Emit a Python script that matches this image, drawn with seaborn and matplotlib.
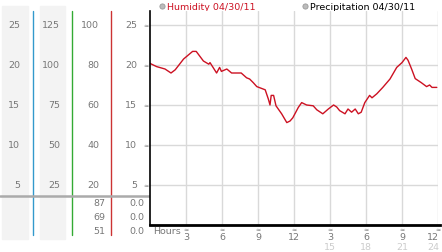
import matplotlib
matplotlib.use("Agg")
import matplotlib.pyplot as plt
import matplotlib.transforms as mtrans
import seaborn as sns
import pandas as pd

# ---- data ----
hours = [0.0, 0.55, 1.25, 1.75, 2.1, 2.8, 3.55, 3.85, 4.45, 4.9, 5.0, 5.55, 5.8, 5.95,
         6.4, 6.8, 7.6, 8.05, 8.3, 8.6, 8.9, 9.6, 9.86, 10.0, 10.1, 10.3, 10.5, 10.97,
         11.4, 11.67, 11.9, 12.36, 12.64, 13.05, 13.6, 13.9, 14.4, 14.86, 15.3, 15.56,
         15.8, 16.25, 16.5, 16.8, 17.1, 17.36, 17.6, 17.9, 18.3, 18.5, 18.9, 19.4, 20.0,
         20.56, 21.0, 21.33, 21.5, 21.8, 22.1, 22.6, 23.05, 23.3, 23.5, 23.9]
humidity = [20.2, 19.8, 19.5, 19.0, 19.4, 20.75, 21.7, 21.7, 20.5, 20.1, 20.3, 19.0, 19.7, 19.2,
            19.5, 19.0, 19.0, 18.4, 18.25, 17.8, 17.3, 16.9, 15.75, 15.0, 16.2, 16.2, 14.9, 13.9,
            12.8, 13.0, 13.4, 14.7, 15.3, 15.0, 14.9, 14.4, 13.9, 14.5, 15.0, 14.75,
            14.3, 13.9, 14.5, 14.1, 14.5, 13.9, 14.1, 15.3, 16.2, 15.9, 16.4, 17.2, 18.25,
            19.7, 20.3, 20.95, 20.6, 19.5, 18.3, 17.8, 17.3, 17.5, 17.2, 17.2]

y_ticks = [25, 20, 15, 10, 5]
col1_labels = ["25", "20", "15", "10", "5"]
col2_labels = ["125", "100", "75", "50", "25"]
col3_labels = ["100", "80", "60", "40", "20"]
col4_labels = ["25", "20", "15", "10", "5"]
col3_bottom = ["87", "69", "51"]
col4_bottom = ["0.0", "0.0", "0.0"]
x_ticks = [3, 6, 9, 12, 15, 18, 21, 24]
x_labels_top = ["3", "6", "9", "12", "3", "6", "9", "12"]
x_labels_bot = ["", "", "", "", "15", "18", "21", "24"]
legend_labels = ["Humidity 04/30/11", "Precipitation 04/30/11"]

df = pd.DataFrame({"hour": hours, "humidity": humidity})

sns.set_style("white")
plt.rcParams["font.family"] = ["DejaVu Sans"]

W, H = 442, 253
fig = plt.figure(figsize=(W / 100, H / 100), dpi=100)
fig.patch.set_facecolor("white")

# overlay axes in pixel coordinates for the left panel
ov = fig.add_axes([0, 0, 1, 1])
ov.set_xlim(0, W)
ov.set_ylim(H, 0)
ov.axis("off")

# main axes
ax = fig.add_axes([150 / W, (H - 226) / H, 288 / W, (226 - 12) / H])
ax.set_xlim(0, 24)
ax.set_ylim(0, 26.75)
ax.set_facecolor("white")
ax.set_xticks(x_ticks)
ax.set_yticks(y_ticks)
ax.grid(True, color="#d9d9d9", lw=1)
ax.tick_params(length=0, labelbottom=False, labelleft=False)
for s in ["top", "right"]:
    ax.spines[s].set_visible(False)
ax.spines["left"].set_color("black")
ax.spines["left"].set_linewidth(1.2)
ax.spines["bottom"].set_color("black")
ax.spines["bottom"].set_linewidth(2.0)
ax.spines["bottom"].set_bounds(0, 24.15)

sns.lineplot(data=df, x="hour", y="humidity", ax=ax, color="#cc1122", lw=1.0)
ax.set_xlabel("")
ax.set_ylabel("")

fs = 6.8
gray = "#777777"

# left panel backgrounds and lines
for x0, x1 in [(2, 28), (40, 65)]:
    ov.add_patch(plt.Rectangle((x0, 7), x1 - x0, 233, color="#f3f3f3", zorder=0))
for xx, c in [(33.3, "#3399cc"), (72.3, "#33aa33"), (111.3, "#cc3333")]:
    ov.plot([xx, xx], [12, 236], color=c, lw=1.0, zorder=2)
ov.plot([0, 150], [197, 197], color="#aaaaaa", lw=1.8, zorder=3)

blend = mtrans.blended_transform_factory(ov.transData, ax.transData)
for v, a, b, c3, d in zip(y_ticks, col1_labels, col2_labels, col3_labels, col4_labels):
    ov.text(20, v, a, transform=blend, ha="right", va="center", fontsize=fs, color=gray)
    ov.text(60, v, b, transform=blend, ha="right", va="center", fontsize=fs, color=gray)
    ov.text(99, v, c3, transform=blend, ha="right", va="center", fontsize=fs, color=gray)
    ov.text(137, v, d, transform=blend, ha="right", va="center", fontsize=fs, color=gray)
    ov.text(146, v, "≈", transform=blend, ha="center", va="center", fontsize=4.5, color=gray)

for i, (a, b) in enumerate(zip(col3_bottom, col4_bottom)):
    yy = 204 + 14 * i
    ov.text(105, yy, a, ha="right", va="center", fontsize=fs, color=gray)
    ov.text(144, yy, b, ha="right", va="center", fontsize=fs, color=gray)

# x tick labels
xblend = mtrans.blended_transform_factory(ax.transData, ov.transData)
shift_left = mtrans.ScaledTranslation(-5 / 72 * 0.72 * 0 - 0.05, 0, fig.dpi_scale_trans)
ov.text(153, 232, "Hours", ha="left", va="center", fontsize=fs, color=gray)
for xv, t, b in zip(x_ticks, x_labels_top, x_labels_bot):
    tr = xblend + shift_left if xv == x_ticks[-1] else xblend
    ov.text(xv, 230, "≈", transform=xblend, ha="center", va="center", fontsize=4.5, color=gray)
    ov.text(xv, 238, t, transform=tr, ha="center", va="center", fontsize=fs, color=gray)
    if b:
        ov.text(xv, 248, b, transform=tr, ha="center", va="center", fontsize=fs, color="#cccccc")

# legend
ov.scatter([162], [7], s=14, color="#bbbbbb", edgecolor="#999999", lw=0.6, zorder=4)
ov.text(167, 7, legend_labels[0], ha="left", va="center", fontsize=fs, color="#cc1122")
ov.scatter([305], [7], s=14, color="#bbbbbb", edgecolor="#999999", lw=0.6, zorder=4)
ov.text(310, 7, legend_labels[1], ha="left", va="center", fontsize=fs, color="black")

fig.savefig("out.png", dpi=100)
